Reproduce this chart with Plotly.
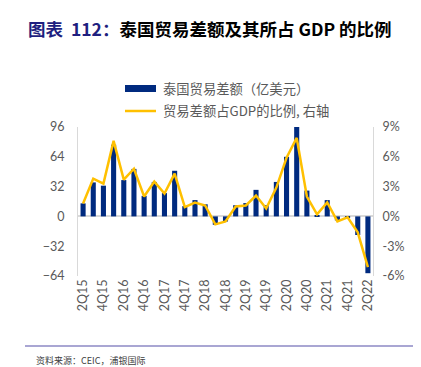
import plotly.graph_objects as go

quarters = ["2Q15","3Q15","4Q15","1Q16","2Q16","3Q16","4Q16","1Q17","2Q17","3Q17","4Q17",
            "1Q18","2Q18","3Q18","4Q18","1Q19","2Q19","3Q19","4Q19","1Q20","2Q20","3Q20","4Q20",
            "1Q21","2Q21","3Q21","4Q21","1Q22","2Q22"]
trade_balance = [14, 36.5, 33, 77, 39, 51, 22, 37, 25, 49, 11, 17.5, 13, -9, -5.5, 12, 14.3,
                 28.5, 12, 37, 64, 96.4, 27.7, 1.5, 17.5, -4.3, -1, -20, -61]
pct_gdp = [1.3, 3.8, 3.3, 7.6, 3.7, 4.8, 2.0, 3.5, 2.3, 4.3, 0.94, 1.4, 1.1, -0.8, -0.5, 1.0, 1.1,
           2.1, 0.8, 2.9, 5.9, 7.9, 2.0, 0.2, 1.4, -0.5, -0.1, -1.6, -5.1]
tick_labels = quarters[::2]
left_ticks = [-64, -32, 0, 32, 64, 96]
right_ticks = [-6, -3, 0, 3, 6, 9]
right_labels = [f"{v}%" for v in right_ticks]
bar_name = "泰国贸易差额（亿美元）"
line_name = "贸易差额占GDP的比例, 右轴"

W, H = 421, 367
L, R, T, B = 70, 365, 119, 268
pw, ph = R - L, B - T

def px(x):
    return (x - L) / pw

def py(y):
    return (B - y) / ph

BAR_COLOR = "#002A7F"
LINE_COLOR = "#FFC000"

fig = go.Figure()
fig.add_trace(go.Bar(x=quarters, y=trade_balance, name=bar_name,
                     marker=dict(color=BAR_COLOR, line=dict(width=0)), yaxis="y"))
fig.add_trace(go.Scatter(x=quarters, y=pct_gdp, name=line_name,
                         mode="lines", line=dict(color=LINE_COLOR, width=2.5), yaxis="y2"))

tickfont = dict(family="Lato, sans-serif", size=12.5, color="#595959")
legfont = dict(family="Noto Sans CJK SC, sans-serif", size=13.3, color="#595959")
fig.update_layout(
    width=W, height=H,
    margin=dict(l=L, r=W - R, t=T, b=H - B),
    plot_bgcolor="white", paper_bgcolor="white",
    bargap=0.5,
    showlegend=False,
    xaxis=dict(type="category", tickmode="array", tickvals=tick_labels, ticktext=tick_labels,
               tickangle=-90, tickfont=tickfont, showline=False, showgrid=False, ticks=""),
    yaxis=dict(range=[-64, 96], tickvals=left_ticks, tickfont=tickfont, showgrid=False,
               showline=True, linecolor="#D9D9D9", linewidth=1, zeroline=True,
               zerolinecolor="#D9D9D9", zerolinewidth=1.5, ticks="", ticklabelstandoff=10),
    yaxis2=dict(range=[-6, 9], tickvals=right_ticks, ticktext=right_labels, overlaying="y",
                side="right", tickfont=tickfont, showgrid=False, showline=True,
                linecolor="#D9D9D9", linewidth=1, zeroline=False, ticks="", ticklabelstandoff=6),
    shapes=[
        dict(type="line", xref="paper", yref="paper", x0=px(17), x1=px(413),
             y0=py(338), y1=py(338), line=dict(color="#8C88C4", width=1.5)),
        dict(type="rect", xref="paper", yref="paper", x0=px(117), x1=px(148),
             y0=py(84), y1=py(77), fillcolor=BAR_COLOR, line=dict(width=0)),
        dict(type="line", xref="paper", yref="paper", x0=px(117), x1=px(148),
             y0=py(103), y1=py(103), line=dict(color=LINE_COLOR, width=2.5)),
    ],
    annotations=[
        dict(xref="paper", yref="paper", x=px(18), y=py(20), xanchor="left", yanchor="middle",
             showarrow=False,
             text="<b><span style='color:#1F1F80'>图表  112：</span>泰国贸易差额及其所占 GDP 的比例</b>",
             font=dict(family="Noto Sans CJK SC, sans-serif", size=17.5, color="#000000")),
        dict(xref="paper", yref="paper", x=px(153), y=py(80), xanchor="left", yanchor="middle",
             showarrow=False, text=bar_name, font=legfont),
        dict(xref="paper", yref="paper", x=px(153), y=py(103), xanchor="left", yanchor="middle",
             showarrow=False, text=line_name, font=legfont),
        dict(xref="paper", yref="paper", x=px(26), y=py(352), xanchor="left", yanchor="middle",
             showarrow=False, text="资料来源：CEIC，浦银国际",
             font=dict(family="Noto Sans CJK SC, sans-serif", size=9, color="#404040")),
    ],
)

fig.write_html("out.html")
